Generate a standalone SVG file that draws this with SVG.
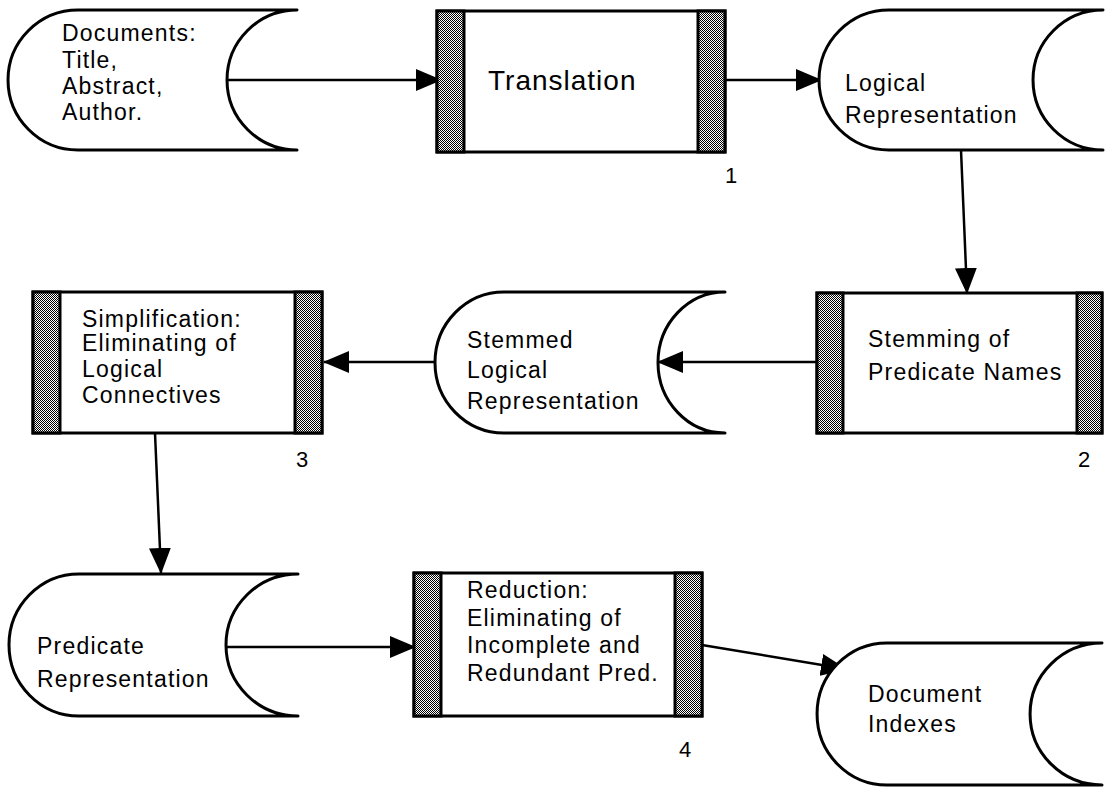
<svg xmlns="http://www.w3.org/2000/svg" width="1112" height="788" viewBox="0 0 1112 788">
  <style>
    .store { fill: #fff; stroke: #000; stroke-width: 3; stroke-linejoin: round; }
    .proc { fill: #fff; stroke: #000; stroke-width: 3; }
    .bar { fill: url(#dither); stroke: #000; stroke-width: 3; }
    .flow { fill: none; stroke: #000; stroke-width: 2.5; marker-end: url(#head); }
    .lbl { font-family: "Liberation Sans", Arial, Helvetica, sans-serif; font-size: 23px; letter-spacing: 1.2px; fill: #000; }
    .big { font-size: 28px; letter-spacing: 1px; }
    .num { font-family: "Liberation Sans", Arial, Helvetica, sans-serif; font-size: 22px; fill: #000; }
  </style>
  <defs>
    <!-- fine checkerboard used for the shaded process-box edges -->
    <pattern id="dither" width="2" height="2" patternUnits="userSpaceOnUse">
      <rect width="2" height="2" fill="#fff"/>
      <rect x="0" y="0" width="1" height="1" fill="#000"/>
      <rect x="1" y="1" width="1" height="1" fill="#000"/>
    </pattern>
    <marker id="head" markerUnits="userSpaceOnUse" markerWidth="26" markerHeight="22" viewBox="0 0 26 22" refX="25" refY="11" orient="auto">
      <path d="M0,0 L26,11 L0,22 Z" fill="#000"/>
    </marker>
  </defs>

  <rect width="1112" height="788" fill="#fff"/>

  <!-- connectors -->
  <g id="connectors">
    <line class="flow" x1="227" y1="80" x2="441" y2="80"/>
    <line class="flow" x1="725" y1="80" x2="821" y2="80"/>
    <line class="flow" x1="961" y1="150" x2="967" y2="293"/>
    <line class="flow" x1="817" y1="362" x2="658" y2="362"/>
    <line class="flow" x1="435" y1="362" x2="324" y2="362"/>
    <line class="flow" x1="155" y1="433" x2="161" y2="573"/>
    <line class="flow" x1="226" y1="647" x2="415" y2="647"/>
    <line class="flow" x1="702" y1="645" x2="846" y2="669"/>
  </g>

  <!-- data store: Documents -->
  <g id="store-documents">
    <path class="store" d="M297,10 H78 A70,70 0 0 0 78,150 H297 A70,70 0 0 1 297,10 Z"/>
    <text class="lbl" x="62" y="41">Documents:</text>
    <text class="lbl" x="62" y="68">Title,</text>
    <text class="lbl" x="62" y="94">Abstract,</text>
    <text class="lbl" x="62" y="120">Author.</text>
  </g>

  <!-- process 1: Translation -->
  <g id="proc-translation">
    <rect class="proc" x="437" y="11" width="288" height="141"/>
    <rect class="bar" x="437" y="11" width="27" height="141"/>
    <rect class="bar" x="698" y="11" width="27" height="141"/>
    <text class="lbl big" x="488" y="90">Translation</text>
    <text class="num" x="725" y="183">1</text>
  </g>

  <!-- data store: Logical Representation -->
  <g id="store-logical">
    <path class="store" d="M1103,10 H889 A70,70 0 0 0 889,150 H1103 A70,70 0 0 1 1103,10 Z"/>
    <text class="lbl" x="845" y="91">Logical</text>
    <text class="lbl" x="845" y="123">Representation</text>
  </g>

  <!-- process 2: Stemming -->
  <g id="proc-stemming">
    <rect class="proc" x="817" y="293" width="285" height="140"/>
    <rect class="bar" x="817" y="293" width="26" height="140"/>
    <rect class="bar" x="1077" y="293" width="25" height="140"/>
    <text class="lbl" x="868" y="347">Stemming of</text>
    <text class="lbl" x="868" y="380">Predicate Names</text>
    <text class="num" x="1078" y="467">2</text>
  </g>

  <!-- data store: Stemmed Logical Representation -->
  <g id="store-stemmed">
    <path class="store" d="M725,292 H504 A69,70.5 0 0 0 504,433 H725 A67,70.5 0 0 1 725,292 Z"/>
    <text class="lbl" x="467" y="348">Stemmed</text>
    <text class="lbl" x="467" y="378">Logical</text>
    <text class="lbl" x="467" y="409">Representation</text>
  </g>

  <!-- process 3: Simplification -->
  <g id="proc-simplification">
    <rect class="proc" x="33" y="292" width="289" height="141"/>
    <rect class="bar" x="33" y="292" width="27" height="141"/>
    <rect class="bar" x="295" y="292" width="27" height="141"/>
    <text class="lbl" x="82" y="327">Simplification:</text>
    <text class="lbl" x="82" y="351">Eliminating of</text>
    <text class="lbl" x="82" y="377">Logical</text>
    <text class="lbl" x="82" y="403">Connectives</text>
    <text class="num" x="296" y="467">3</text>
  </g>

  <!-- data store: Predicate Representation -->
  <g id="store-predicate">
    <path class="store" d="M298,574 H79 A70,71 0 0 0 79,716 H298 A72,71 0 0 1 298,574 Z"/>
    <text class="lbl" x="37" y="654">Predicate</text>
    <text class="lbl" x="37" y="687">Representation</text>
  </g>

  <!-- process 4: Reduction -->
  <g id="proc-reduction">
    <rect class="proc" x="414" y="573" width="288" height="143"/>
    <rect class="bar" x="414" y="573" width="27" height="143"/>
    <rect class="bar" x="675" y="573" width="27" height="143"/>
    <text class="lbl" x="467" y="598">Reduction:</text>
    <text class="lbl" x="467" y="626">Eliminating of</text>
    <text class="lbl" x="467" y="653">Incomplete and</text>
    <text class="lbl" x="467" y="681">Redundant Pred.</text>
    <text class="num" x="679" y="757">4</text>
  </g>

  <!-- data store: Document Indexes -->
  <g id="store-indexes">
    <path class="store" d="M1102,643 H887 A70,71 0 0 0 887,785 H1102 A72,71 0 0 1 1102,643 Z"/>
    <text class="lbl" x="868" y="702">Document</text>
    <text class="lbl" x="868" y="732">Indexes</text>
  </g>
</svg>
